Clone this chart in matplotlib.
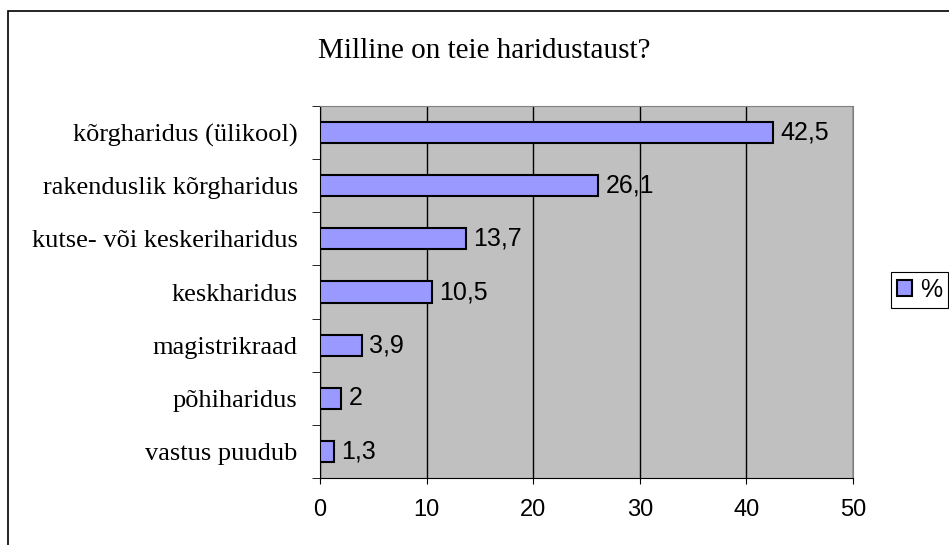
import matplotlib.pyplot as plt
from matplotlib.patches import Rectangle, Patch

categories = ["vastus puudub", "põhiharidus", "magistrikraad", "keskharidus",
              "kutse- või keskeriharidus", "rakenduslik kõrgharidus",
              "kõrgharidus (ülikool)"]
values = [1.3, 2, 3.9, 10.5, 13.7, 26.1, 42.5]
value_labels = ["1,3", "2", "3,9", "10,5", "13,7", "26,1", "42,5"]
x_ticks = [0, 10, 20, 30, 40, 50]

fig = plt.figure(figsize=(9.49, 5.45), dpi=100)
fig.patches.append(Rectangle((8 / 949, -0.1), 1.2, 1 - 11 / 545 + 0.1,
                             transform=fig.transFigure, fill=False,
                             edgecolor="black", linewidth=1.2))

ax = fig.add_axes([320 / 949, 1 - 478 / 545, 533 / 949, 372 / 545])
ax.set_facecolor("#C0C0C0")

pos = range(len(categories))
ax.barh(pos, values, height=0.4, color="#9999FF", edgecolor="black",
        linewidth=1.5, zorder=3)
for p, v, lab in zip(pos, values, value_labels):
    ax.text(v + 0.7, p, lab, va="center", ha="left", fontsize=18,
            family="Liberation Sans", zorder=4)

ax.set_xlim(0, 50)
ax.set_ylim(-0.5, len(categories) - 0.5)
ax.set_xticks(x_ticks)
ax.set_xticklabels([str(t) for t in x_ticks], family="Liberation Sans",
                   fontsize=17)
ax.tick_params(axis="x", length=4, pad=11)
ax.set_yticks(list(pos))
ax.set_yticklabels(categories, family="Liberation Serif", fontsize=19)
ax.tick_params(axis="y", length=0, pad=16)
ax.set_yticks([p - 0.5 for p in range(len(categories) + 1)], minor=True)
ax.tick_params(axis="y", which="minor", length=6, direction="out")

ax.grid(axis="x", color="black", linewidth=1, zorder=1)
ax.set_axisbelow(True)
for s in ["top", "right"]:
    ax.spines[s].set_color("#808080")
ax.spines["left"].set_color("black")
ax.spines["bottom"].set_color("black")

fig.text(484 / 949, 1 - 57.5 / 545, "Milline on teie haridustaust?",
         ha="center", va="baseline", family="Liberation Serif", fontsize=21)

leg = fig.legend(handles=[Patch(facecolor="#9999FF", edgecolor="black",
                                linewidth=1.5, label="%")],
                 loc="center left", bbox_to_anchor=(891 / 949, 1 - 290 / 545),
                 borderaxespad=0,
                 prop={"family": "Liberation Sans", "size": 18},
                 fancybox=False, framealpha=1, edgecolor="black",
                 handlelength=0.6, handleheight=0.6, handletextpad=0.3,
                 borderpad=0.25)
leg.get_frame().set_linewidth(0.8)

fig.savefig("out.png", dpi=100)
